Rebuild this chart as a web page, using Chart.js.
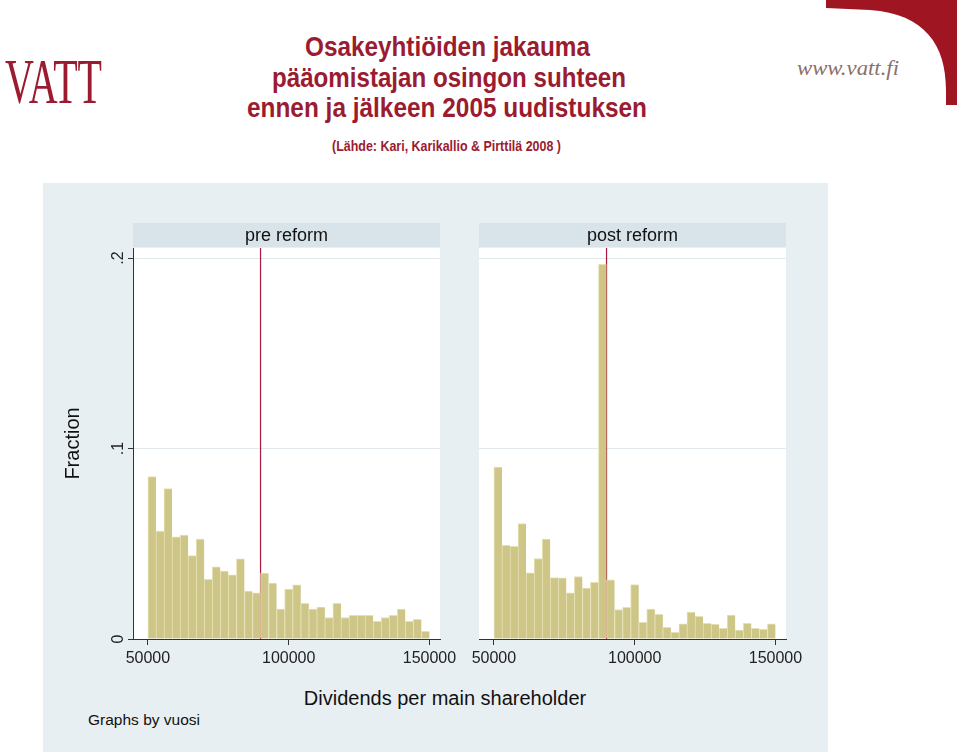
<!DOCTYPE html>
<html>
<head>
<meta charset="utf-8">
<script src="https://cdn.jsdelivr.net/npm/chart.js@4.4.1/dist/chart.umd.min.js"></script>
<style>
  body { margin: 0; width: 960px; height: 755px; background: #fff; position: relative; overflow: hidden;
         font-family: "Liberation Sans", Arial, sans-serif; }
  #head { position: absolute; left: 0; top: 0; }
  #panel { position: absolute; left: 43px; top: 183px; width: 785px; height: 569px; background: #e8eff3; }
  #preCanvas { position: absolute; left: 0; top: 0; }
  #postCanvas { position: absolute; left: 420px; top: 0; }
  .lbl { position: absolute; color: #111; white-space: nowrap; }
</style>
</head>
<body>
<svg id="head" width="960" height="180">
  <text x="5" y="103" textLength="97" lengthAdjust="spacingAndGlyphs" font-family="Liberation Serif, serif" font-size="63" fill="#9b1b30">VATT</text>
  <text x="305" y="56" textLength="285" lengthAdjust="spacingAndGlyphs" font-family="Liberation Sans, Arial" font-weight="bold" font-size="27" fill="#9b1b30">Osakeyhtiöiden jakauma</text>
  <text x="272" y="86.5" textLength="354" lengthAdjust="spacingAndGlyphs" font-family="Liberation Sans, Arial" font-weight="bold" font-size="27" fill="#9b1b30">pääomistajan osingon suhteen</text>
  <text x="247" y="117" textLength="400" lengthAdjust="spacingAndGlyphs" font-family="Liberation Sans, Arial" font-weight="bold" font-size="27" fill="#9b1b30">ennen ja jälkeen 2005 uudistuksen</text>
  <text x="332" y="151" textLength="229" lengthAdjust="spacingAndGlyphs" font-family="Liberation Sans, Arial" font-weight="bold" font-size="15" fill="#9b1b30">(Lähde: Kari, Karikallio &amp; Pirttilä 2008 )</text>
  <text x="797" y="75" textLength="102" lengthAdjust="spacingAndGlyphs" font-family="Liberation Serif, serif" font-style="italic" font-size="21" fill="#8a706b">www.vatt.fi</text>
  <path d="M826,0 H957 V105 H946 V90 C946,45 925,14 870,10 L826,8 Z" fill="#9f1622"/>
</svg>

<div id="panel">
  <canvas id="preCanvas" width="420" height="500"></canvas>
  <canvas id="postCanvas" width="365" height="500"></canvas>
  <div class="lbl" style="left:0; width:804px; top:503px; text-align:center; font-size:20px; line-height:24px;">Dividends per main shareholder</div>
  <div class="lbl" style="left:45px; top:528px; font-size:15.5px; line-height:18px;">Graphs by vuosi</div>
</div>

<script>
// histogram bins: 35 bins from 50000 to 150000
const binStart = 50000;
const binWidth = 100000 / 35;
const threshold = 90000;

const panelTitles = ['pre reform', 'post reform'];
const xTicks = [50000, 100000, 150000];
const yTicks = [0, 0.1, 0.2];
const yTickLabels = ['0', '.1', '.2'];

// fraction per bin
const preReform = [0.0853, 0.0567, 0.0789, 0.0536, 0.0546, 0.0438, 0.0524, 0.0313, 0.0379, 0.0356,
  0.0337, 0.0421, 0.0251, 0.0243, 0.0346, 0.0293, 0.0157, 0.0262, 0.0284, 0.0187,
  0.0157, 0.0168, 0.0113, 0.0187, 0.0113, 0.0124, 0.0124, 0.0124, 0.0093, 0.0113,
  0.0124, 0.0157, 0.0093, 0.0103, 0.0040];
const postReform = [0.0902, 0.0492, 0.0487, 0.0606, 0.0347, 0.0422, 0.0525, 0.0323, 0.0321, 0.0243,
  0.0328, 0.0267, 0.0297, 0.1967, 0.0311, 0.0155, 0.0166, 0.0286, 0.0087, 0.0157,
  0.0129, 0.0061, 0.0035, 0.0079, 0.0141, 0.0119, 0.0082, 0.0077, 0.0056, 0.0126,
  0.0047, 0.0082, 0.0056, 0.0051, 0.0079];

const xMin = 44700, xMax = 153750;
const yMax = 0.20525;
const FONT = '"Liberation Sans", Arial, sans-serif';

// white plot area + grey header strip with the panel title
const panelStrip = {
  id: 'panelStrip',
  beforeDraw(chart, args, opts) {
    const { ctx, chartArea: a } = chart;
    ctx.save();
    ctx.fillStyle = '#fff';
    ctx.fillRect(a.left, a.top, a.right - a.left, a.bottom - a.top);
    ctx.fillStyle = '#d8e3ea';
    ctx.fillRect(a.left, a.top - 25, a.right - a.left, 24);
    ctx.fillStyle = '#111';
    ctx.font = '18px ' + FONT;
    ctx.textAlign = 'center';
    ctx.textBaseline = 'middle';
    ctx.fillText(opts.text, (a.left + a.right) / 2, a.top - 12);
    ctx.restore();
  }
};

function makeChart(canvasId, values, title, isLeft) {
  const bars = values.map((v, i) => ({ x: binStart + binWidth * (i + 0.5), y: v }));
  return new Chart(document.getElementById(canvasId), {
    type: 'bar',
    data: {
      datasets: [
        {
          type: 'bar',
          data: bars,
          backgroundColor: '#cdc687',
          borderColor: '#e6e1b4',
          borderWidth: { left: 1, top: 1, right: 0, bottom: 0 },
          barPercentage: 1,
          categoryPercentage: 1,
          order: 1
        },
        {
          type: 'line',
          data: [{ x: threshold, y: 0 }, { x: threshold, y: yMax }],
          borderColor: '#ab1a3e',
          borderWidth: 1.2,
          pointRadius: 0,
          order: 2
        }
      ]
    },
    options: {
      responsive: false,
      animation: false,
      layout: {
        autoPadding: false,
        padding: isLeft ? { left: 15, top: 65, right: 23, bottom: 14 } : { left: 16, top: 65, right: 42, bottom: 14 }
      },
      plugins: {
        legend: { display: false },
        tooltip: { enabled: false },
        panelStrip: { text: title }
      },
      scales: {
        x: {
          type: 'linear',
          min: xMin,
          max: xMax,
          offset: false,
          afterBuildTicks: s => { s.ticks = xTicks.map(v => ({ value: v })); },
          afterFit: s => { s.height = 30; },
          ticks: {
            callback: v => String(v),
            font: { size: 16, family: FONT },
            color: '#222',
            padding: 4,
            maxRotation: 0,
            autoSkip: false
          },
          grid: { offset: false, drawOnChartArea: false, tickLength: 6, tickColor: '#333' },
          border: { color: '#333', width: 1 }
        },
        y: {
          min: 0,
          max: yMax,
          afterBuildTicks: s => { s.ticks = yTicks.map(v => ({ value: v })); },
          afterFit: s => { s.width = isLeft ? 75 : 0; },
          ticks: {
            display: isLeft,
            callback: (v, i) => yTickLabels[i],
            minRotation: 90,
            maxRotation: 90,
            crossAlign: 'center',
            font: { size: 16, family: FONT },
            color: '#222',
            padding: 3
          },
          grid: {
            color: c => (c.tick && c.tick.value === 0) ? 'rgba(0,0,0,0)' : '#e2e9ed',
            drawTicks: isLeft,
            tickLength: 5,
            tickColor: '#333'
          },
          border: { display: isLeft, color: '#333', width: 1 },
          title: {
            display: isLeft,
            text: 'Fraction',
            font: { size: 20, family: FONT },
            color: '#111',
            padding: { top: 3, bottom: 0 }
          }
        }
      }
    },
    plugins: [panelStrip]
  });
}

makeChart('preCanvas', preReform, panelTitles[0], true);
makeChart('postCanvas', postReform, panelTitles[1], false);
</script>
</body>
</html>
